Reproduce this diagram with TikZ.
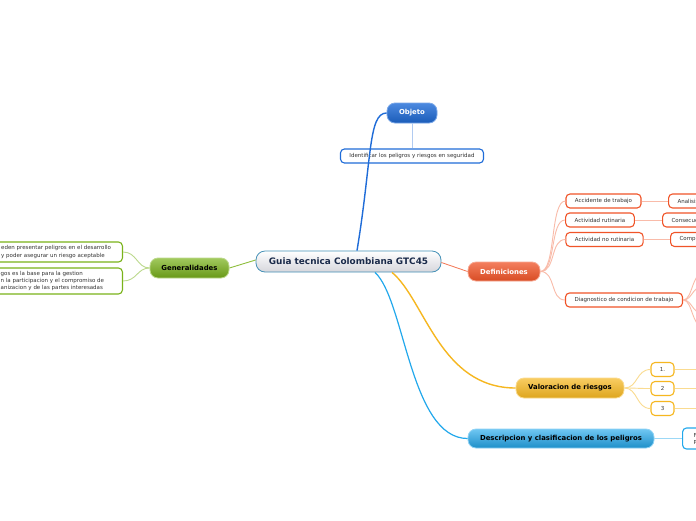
\documentclass[tikz,border=0pt]{standalone}
\usepackage{fontspec}
\setmainfont{DejaVu Sans}
\definecolor{cblue}{HTML}{1F6CD8}
\definecolor{cred}{HTML}{F05428}
\definecolor{cgreen}{HTML}{7AB31A}
\definecolor{cgold}{HTML}{F6B720}
\definecolor{ccyan}{HTML}{22A8EC}
\definecolor{txt}{HTML}{333333}
\begin{document}
\begin{tikzpicture}[x=1pt,y=-1pt,
  mainb/.style={rounded corners=8pt, draw, line width=0.8pt, minimum height=20pt,
    inner xsep=2pt, inner ysep=0pt, font=\fontsize{6.9}{8}\selectfont\bfseries},
  centre/.style={mainb, rounded corners=9pt, minimum height=21pt, draw=ccyan!70!black!80,
    top color=white, bottom color=HTML-cen, font=\fontsize{8.9}{10}\selectfont\bfseries, text=HTML-navy},
  leaf/.style={rounded corners=4pt, draw, line width=1.1pt, fill=white, minimum height=14pt,
    inner xsep=9pt, inner ysep=0pt, font=\fontsize{5.5}{7}\selectfont, text=txt},
  cutleaf/.style={leaf, anchor=west, text width=40pt, align=left},
  link/.style={line width=1.4pt},
  sublink/.style={line width=0.9pt}
]
\colorlet{HTML-cen}{blue!8!gray!30}
\definecolor{HTML-navy}{HTML}{1A2A4A}
\useasboundingbox (0,0) rectangle (696,520);
\fill[white] (0,0) rectangle (696,520);

% central
\node[centre, minimum width=185pt] (cen) at (348.5,261.5) {Guia tecnica Colombiana GTC45};

% Objeto
\node[mainb, minimum width=50pt, draw=cblue!60, top color=cblue!80!white, bottom color=cblue!85!black, text=white] (obj) at (412,113) {Objeto};
\node[leaf, draw=cblue] (ident) at (412,156) {Identificar los peligros y riesgos en seguridad};

% Definiciones
\node[mainb, minimum width=72pt, minimum height=19pt, draw=cred!50, top color=cred!75!white, bottom color=cred!90!black, text=white] (def) at (504,271.5) {Definiciones};
\node[leaf, draw=cred] (acc) at (603.5,201) {Accidente de trabajo};
\node[leaf, draw=cred] (rut) at (600,220) {Actividad rutinaria};
\node[leaf, draw=cred] (nrut) at (604.5,239.5) {Actividad no rutinaria};
\node[leaf, draw=cred] (diag) at (624,300) {Diagnostico de condicion de trabajo};
\node[cutleaf, draw=cred] (ana) at (668,201) {Analisis};
\node[cutleaf, draw=cred] (cons) at (662,220) {Consecue};
\node[cutleaf, draw=cred] (comp) at (670,239.5) {Comp};

% Generalidades
\node[mainb, minimum width=79pt, draw=cgreen!50, top color=cgreen!70!white, bottom color=cgreen!85!black, text=black] (gen) at (189.5,268) {Generalidades};
\node[leaf, draw=cgreen, anchor=east, minimum width=170pt, minimum height=20pt] (g1) at (123,252) {};
\node[leaf, draw=cgreen, anchor=east, minimum width=170pt, minimum height=26pt] (g2) at (123,281) {};
\node[anchor=west, inner sep=0pt, align=left, font=\fontsize{5.5}{8}\selectfont, text=txt] (g1t) at (1,252)
  {eden presentar peligros en el desarrollo\\y poder asegurar un riesgo aceptable};
\node[anchor=west, inner sep=0pt, align=left, font=\fontsize{5.5}{7}\selectfont, text=txt] (g2t) at (0.5,281)
  {gos es la base para la gestion\\n la participacion y el compromiso de\\anizacion y de las partes interesadas};

% Valoracion
\node[mainb, minimum width=108pt, draw=cgold!50, top color=cgold!70!white, bottom color=cgold!90!black, text=black] (val) at (570,388) {Valoracion de riesgos};
\node[leaf, draw=cgold, minimum width=23pt, inner xsep=2pt] (v1) at (662.5,369.5) {1.};
\node[leaf, draw=cgold, minimum width=23pt, inner xsep=2pt] (v2) at (662.5,388.5) {2};
\node[leaf, draw=cgold, minimum width=23pt, inner xsep=2pt] (v3) at (662.5,408.5) {3};
\coordinate (v1e) at (700,369.5);
\coordinate (v2e) at (700,388.5);
\coordinate (v3e) at (700,408.5);

% Descripcion
\node[mainb, minimum width=186pt, minimum height=19pt, draw=ccyan!50, top color=ccyan!65!white, bottom color=ccyan!85!black, text=black] (desc) at (561,438.5) {Descripcion y clasificacion de los peligros};
\node[cutleaf, draw=ccyan, minimum height=21pt, inner xsep=11pt, align=left, font=\fontsize{5.5}{7}\selectfont] (dch) at (682,438.5) {F\\P};

% coordinates leaving the frame
\coordinate (d1) at (712,268);
\coordinate (d2) at (712,284);
\coordinate (d3) at (712,316);
\coordinate (d4) at (712,332);

% connectors
\draw[link, cblue] ([xshift=8.5pt]cen.north) .. controls (372,160) and (368,113) .. (obj.west);
\draw[sublink, cblue!35] (obj.south) -- (ident.north);

\draw[line width=0.8pt, cred!80] ([yshift=-1pt]cen.east) -- (def.west);
\foreach \c in {acc,rut,nrut,diag}
  \draw[sublink, cred!40] (def.east) .. controls (556,271.5) and (550,0|-\c.west) .. (\c.west);
\draw[sublink, cred!40] (acc.east) -- (ana.west);
\draw[sublink, cred!40] (rut.east) -- (cons.west);
\draw[sublink, cred!40] (nrut.east) -- (comp.west);
\foreach \c in {d1,d2,d3,d4}
  \draw[sublink, cred!40] (diag.east) .. controls (694,300) and (690,0|-\c) .. (\c);

\draw[line width=0.9pt, cgreen!85] ([yshift=1.5pt]cen.west) -- (gen.east);
\draw[sublink, cgreen!50] (gen.west) .. controls (137,268) and (137,252) .. (g1.east);
\draw[sublink, cgreen!50] (gen.west) .. controls (137,268) and (137,281) .. (g2.east);

\draw[link, cgold] ([xshift=43.5pt]cen.south) .. controls (425,300) and (440,388) .. (val.west);
\foreach \c in {v1,v2,v3}
  \draw[sublink, cgold!50] (val.east) .. controls (638,388) and (636,0|-\c.west) .. (\c.west);
\draw[sublink, cgold!50] (v1.east) -- (v1e);
\draw[sublink, cgold!50] (v2.east) -- (v2e);
\draw[sublink, cgold!50] (v3.east) -- (v3e);

\draw[line width=1.2pt, ccyan] ([xshift=26.5pt]cen.south) .. controls (405,300) and (410,438.5) .. (desc.west);
\draw[sublink, ccyan!45] (desc.east) -- (dch.west);
\end{tikzpicture}
\end{document}
